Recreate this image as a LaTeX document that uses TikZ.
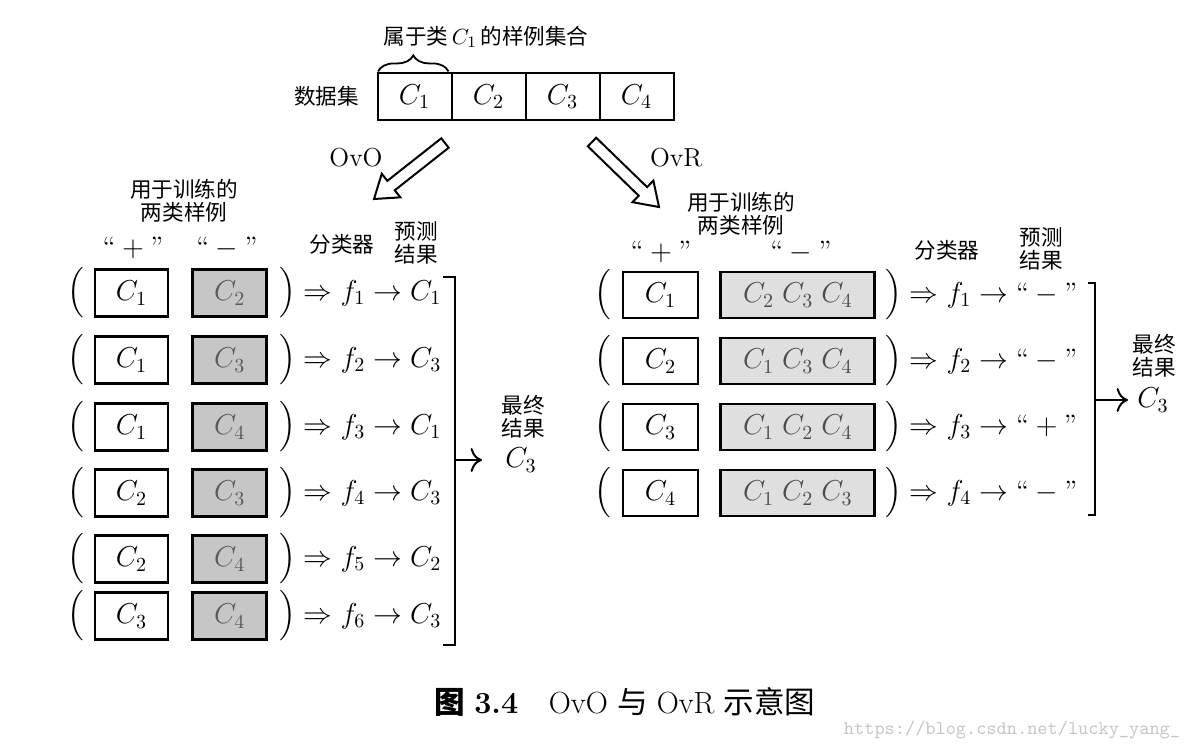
\documentclass[tikz,border=0pt]{standalone}
\usepackage{amsmath,amssymb}
\usepackage{fontspec}
\newfontfamily\cjk{Noto Sans CJK SC}
\usepackage{tikz}
\usetikzlibrary{arrows.meta,positioning,calc,decorations.pathreplacing}
\newcommand{\bigopen}{\left(\vcenter to 25pt{}\right.}
\newcommand{\bigclose}{\left.\vcenter to 25pt{}\right)}
\newcommand{\hollowarrow}[2]{%
  \draw[hollow] ($(#1)!3pt!90:(#2)$) -- ($(#1)!.76!(#2)!3pt!90:(#2)$)
    -- ($(#1)!.76!(#2)!7.5pt!90:(#2)$) -- (#2)
    -- ($(#1)!.76!(#2)!7.5pt!-90:(#2)$) -- ($(#1)!.76!(#2)!3pt!-90:(#2)$)
    -- ($(#1)!3pt!-90:(#2)$) -- cycle;}

\begin{document}
\begin{tikzpicture}[
    x=0.5pt, y=-0.5pt,
    font=\fontsize{14}{17}\selectfont,
    dbox/.style={rectangle, draw, line width=1pt, outer sep=0pt, inner sep=0pt,
                minimum width=37pt, minimum height=23.5pt},
    posbox/.style={rectangle, draw, line width=1.4pt, inner sep=0pt,
                minimum width=36.5pt, minimum height=23.5pt},
    negbox/.style={posbox, fill=gray!45, text=gray!70!black, minimum width=37pt},
    poswide/.style={posbox, minimum width=37.5pt, minimum height=23pt},
    negwide/.style={posbox, fill=gray!25, text=gray!60!black,
                minimum width=77pt, minimum height=23pt},
    lbl/.style={font=\cjk\fontsize{10.8}{11.5}\selectfont, align=center, inner sep=0pt},
    expr/.style={inner sep=0pt},
    hollow/.style={draw, line width=1pt, line join=miter},
    bracket/.style={line width=1pt},
    >={Computer Modern Rightarrow[scale=1.5]}
]
\useasboundingbox (0,0) rectangle (1193,752);

% data set
\node[dbox] (d1) at (414.5,96.5) {$C_1$};
\node[dbox, right=0pt of d1] (d2) {$C_2$};
\node[dbox, right=0pt of d2] (d3) {$C_3$};
\node[dbox, right=0pt of d3] (d4) {$C_4$};
\node[lbl, left=9pt of d1] (dataset) {数据集};
\draw[decorate, decoration={brace, amplitude=8pt}, line width=0.9pt]
    ([xshift=0.3pt, yshift=0.8pt]d1.north west) -- ([xshift=-1.5pt, yshift=0.8pt]d1.north east);
\node[lbl] (c1set) at (486,37) {属于类\,$C_1$\,的样例集合};

% OvO / OvR
\coordinate (ovotail) at (445,143);
\coordinate (ovotip) at (374,199);
\coordinate (ovrtail) at (592,142);
\coordinate (ovrtip) at (659,207);
\hollowarrow{ovotail}{ovotip}
\hollowarrow{ovrtail}{ovrtip}
\node[font=\fontsize{13}{15}\selectfont] (ovo) at (356,158) {OvO};
\node[font=\fontsize{13}{15}\selectfont] (ovr) at (676,158) {OvR};

% OvO side
\node[lbl] (ltrain) at (184,201) {用于训练的\\两类样例};
\node[expr] (lplus) at (133,248) {$\text{“}+\text{”}$};
\node[expr] (lminus) at (227,248) {$\text{“}-\text{”}$};
\node[lbl] (lclf) at (342,244) {分类器};
\node[lbl] (lpred) at (416,242.5) {预测\\结果};

\node[posbox] (lp1) at (131.5,293) {$C_1$};
\node[negbox, right=11pt of lp1] (ln1) {$C_2$};
\node[expr, left=3.5pt of lp1] (lo1) {$\bigopen$};
\node[expr, right=4pt of ln1] (lf1) {$\bigclose\Rightarrow f_1\to C_1$};

\node[posbox] (lp2) at (131.5,360) {$C_1$};
\node[negbox, right=11pt of lp2] (ln2) {$C_3$};
\node[expr, left=3.5pt of lp2] (lo2) {$\bigopen$};
\node[expr, right=4pt of ln2] (lf2) {$\bigclose\Rightarrow f_2\to C_3$};

\node[posbox] (lp3) at (131.5,427) {$C_1$};
\node[negbox, right=11pt of lp3] (ln3) {$C_4$};
\node[expr, left=3.5pt of lp3] (lo3) {$\bigopen$};
\node[expr, right=4pt of ln3] (lf3) {$\bigclose\Rightarrow f_3\to C_1$};

\node[posbox] (lp4) at (131.5,493) {$C_2$};
\node[negbox, right=11pt of lp4] (ln4) {$C_3$};
\node[expr, left=3.5pt of lp4] (lo4) {$\bigopen$};
\node[expr, right=4pt of ln4] (lf4) {$\bigclose\Rightarrow f_4\to C_3$};

\node[posbox] (lp5) at (131.5,559) {$C_2$};
\node[negbox, right=11pt of lp5] (ln5) {$C_4$};
\node[expr, left=3.5pt of lp5] (lo5) {$\bigopen$};
\node[expr, right=4pt of ln5] (lf5) {$\bigclose\Rightarrow f_5\to C_2$};

\node[posbox] (lp6) at (131.5,616) {$C_3$};
\node[negbox, right=11pt of lp6] (ln6) {$C_4$};
\node[expr, left=3.5pt of lp6] (lo6) {$\bigopen$};
\node[expr, right=4pt of ln6] (lf6) {$\bigclose\Rightarrow f_6\to C_3$};

\draw[bracket] (443,277) -- (455,277) -- (455,645) -- (443,645);
\coordinate (lbr) at (455,460);
\node[lbl] (lfinal) at (523,417) {最终\\结果};
\node[expr, anchor=west] (lres) at (505,460) {$C_3$};
\draw[bracket, ->, shorten >=11.5pt] (lbr) -- (lres.west);

% OvR side
\node[lbl] (rtrain) at (741,213.5) {用于训练的\\两类样例};
\node[expr] (rplus) at (661,252) {$\text{“}+\text{”}$};
\node[expr] (rminus) at (801,252) {$\text{“}-\text{”}$};
\node[lbl] (rclf) at (947,250) {分类器};
\node[lbl] (rpred) at (1041,248.5) {预测\\结果};

\node[poswide] (rp1) at (660.5,295) {$C_1$};
\node[negwide, right=10pt of rp1] (rn1) {$C_2\;C_3\;C_4$};
\node[expr, left=4pt of rp1] (ro1) {$\bigopen$};
\node[expr, right=3pt of rn1] (rf1) {$\bigclose\Rightarrow f_1\to\text{“}-\text{”}$};

\node[poswide] (rp2) at (660.5,361) {$C_2$};
\node[negwide, right=10pt of rp2] (rn2) {$C_1\;C_3\;C_4$};
\node[expr, left=4pt of rp2] (ro2) {$\bigopen$};
\node[expr, right=3pt of rn2] (rf2) {$\bigclose\Rightarrow f_2\to\text{“}-\text{”}$};

\node[poswide] (rp3) at (660.5,427) {$C_3$};
\node[negwide, right=10pt of rp3] (rn3) {$C_1\;C_2\;C_4$};
\node[expr, left=4pt of rp3] (ro3) {$\bigopen$};
\node[expr, right=3pt of rn3] (rf3) {$\bigclose\Rightarrow f_3\to\text{“}+\text{”}$};

\node[poswide] (rp4) at (660.5,493) {$C_4$};
\node[negwide, right=10pt of rp4] (rn4) {$C_1\;C_2\;C_3$};
\node[expr, left=4pt of rp4] (ro4) {$\bigopen$};
\node[expr, right=3pt of rn4] (rf4) {$\bigclose\Rightarrow f_4\to\text{“}-\text{”}$};

\draw[bracket] (1088,283) -- (1095,283) -- (1095,515) -- (1088,515);
\coordinate (rbr) at (1095,400);
\node[lbl] (rfinal) at (1154,356) {最终\\结果};
\node[expr, anchor=west] (rres) at (1137,400) {$C_3$};
\draw[bracket, ->, shorten >=4.5pt] (rbr) -- (rres.west);

% caption
\node[font=\fontsize{15.3}{18}\selectfont] (caption) at (625,702)
    {{\cjk\bfseries 图} \textbf{3.4}\quad OvO {\cjk 与} OvR {\cjk 示意图}};
\node[font=\ttfamily\fontsize{9.7}{11}\selectfont, text=gray!45] (wmark) at (1012,730)
    {https://blog.csdn.net/lucky\_yang\_};
\end{tikzpicture}
\end{document}
